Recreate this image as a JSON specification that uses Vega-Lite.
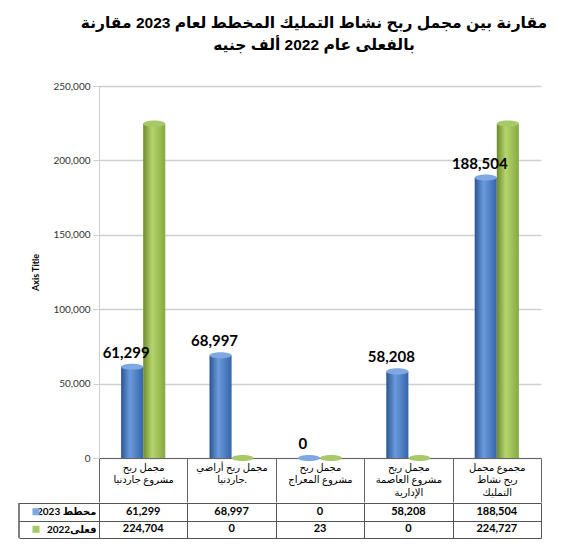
{
  "$schema": "https://vega.github.io/schema/vega-lite/v6.json",
  "padding": {"left": 18, "top": 15, "right": 10, "bottom": 5},
  "background": "white",
  "title": {
    "text": ["مقارنة بين مجمل ربح نشاط التمليك المخطط لعام 2023 مقارنة", "بالفعلى عام 2022 ألف جنيه"],
    "font": "Liberation Sans, DejaVu Sans",
    "fontSize": 15.5,
    "fontWeight": "bold",
    "color": "black",
    "anchor": "middle",
    "frame": "group",
    "dx": -6,
    "lineHeight": 22,
    "offset": 28
  },
  "datasets": {
    "bars": [
      {"cat": "مجمل ربح|مشروع جاردنيا", "series": "2023", "value": 61299},
      {"cat": "مجمل ربح|مشروع جاردنيا", "series": "2022", "value": 224704},
      {"cat": "مجمل ربح أراضي|جاردنيا.", "series": "2023", "value": 68997},
      {"cat": "مجمل ربح أراضي|جاردنيا.", "series": "2022", "value": 0},
      {"cat": "مجمل ربح|مشروع المعراج", "series": "2023", "value": 0},
      {"cat": "مجمل ربح|مشروع المعراج", "series": "2022", "value": 23},
      {"cat": "مجمل ربح|مشروع العاصمة|الإدارية", "series": "2023", "value": 58208},
      {"cat": "مجمل ربح|مشروع العاصمة|الإدارية", "series": "2022", "value": 0},
      {"cat": "مجموع مجمل|ربح نشاط|التمليك", "series": "2023", "value": 188504},
      {"cat": "مجموع مجمل|ربح نشاط|التمليك", "series": "2022", "value": 224727}
    ],
    "table": [
      {"cat": "مجمل ربح|مشروع جاردنيا", "row": "مخطط 2023", "value": 61299},
      {"cat": "مجمل ربح|مشروع جاردنيا", "row": "فعلى2022", "value": 224704},
      {"cat": "مجمل ربح أراضي|جاردنيا.", "row": "مخطط 2023", "value": 68997},
      {"cat": "مجمل ربح أراضي|جاردنيا.", "row": "فعلى2022", "value": 0},
      {"cat": "مجمل ربح|مشروع المعراج", "row": "مخطط 2023", "value": 0},
      {"cat": "مجمل ربح|مشروع المعراج", "row": "فعلى2022", "value": 23},
      {"cat": "مجمل ربح|مشروع العاصمة|الإدارية", "row": "مخطط 2023", "value": 58208},
      {"cat": "مجمل ربح|مشروع العاصمة|الإدارية", "row": "فعلى2022", "value": 0},
      {"cat": "مجموع مجمل|ربح نشاط|التمليك", "row": "مخطط 2023", "value": 188504},
      {"cat": "مجموع مجمل|ربح نشاط|التمليك", "row": "فعلى2022", "value": 224727}
    ],
    "legend": [
      {"row": "مخطط 2023", "color": "2023"},
      {"row": "فعلى2022", "color": "2022"}
    ]
  },
  "spacing": -6,
  "vconcat": [
    {
      "width": 442,
      "height": 372,
      "data": {"name": "bars"},
      "encoding": {
        "x": {
          "field": "cat", "type": "nominal", "sort": null,
          "scale": {"paddingInner": 0, "paddingOuter": 0},
          "axis": {
            "title": null, "labelAngle": 0, "labelExpr": "split(datum.label, '|')",
            "labelFont": "Lato, DejaVu Sans", "labelFontSize": 10, "labelColor": "black",
            "labelLineHeight": 12.5, "labelBaseline": "top", "labelPadding": -40,
            "labelOverlap": false, "labelBound": false,
            "minExtent": 43, "maxExtent": 43,
            "tickBand": "extent", "tickSize": 44, "tickColor": "#666", "domainColor": "#666", "grid": false
          }
        },
        "xOffset": {"field": "series", "type": "nominal", "sort": ["2023", "2022"], "scale": {"paddingInner": 0, "paddingOuter": 1}},
        "y": {
          "field": "value", "type": "quantitative",
          "scale": {"domain": [0, 250000]},
          "axis": {
            "title": "Axis Title", "titleFont": "Lato, DejaVu Sans", "titleFontSize": 9, "titleFontWeight": "bold", "titleColor": "black",
            "titlePadding": 12,
            "values": [0, 50000, 100000, 150000, 200000, 250000], "format": ",.0f",
            "labelFont": "Lato, DejaVu Sans", "labelFontSize": 10, "labelColor": "#333", "labelPadding": 3,
            "grid": true, "gridColor": "#cfcfcf", "gridWidth": 1.5,
            "domainColor": "#cfcfcf", "tickColor": "#cfcfcf", "tickSize": 6
          }
        }
      },
      "layer": [
        {
          "transform": [{"filter": "datum.series === '2023'"}],
          "mark": {"type": "bar", "color": {"x1": 0, "x2": 1, "y1": 0, "y2": 0, "gradient": "linear", "stops": [
            {"offset": 0, "color": "#2B5591"},
            {"offset": 0.4, "color": "#6B9BDD"},
            {"offset": 1, "color": "#3465A8"}]}}
        },
        {
          "transform": [{"filter": "datum.series === '2022'"}],
          "mark": {"type": "bar", "color": {"x1": 0, "x2": 1, "y1": 0, "y2": 0, "gradient": "linear", "stops": [
            {"offset": 0, "color": "#6C8A2C"},
            {"offset": 0.4, "color": "#B6D56C"},
            {"offset": 1, "color": "#86A943"}]}}
        },
        {
          "mark": {"type": "point", "filled": true, "opacity": 1, "size": 484, "shape": "M-1,0A1,0.28,0,1,0,1,0A1,0.28,0,1,0,-1,0Z", "strokeWidth": 0},
          "encoding": {
            "color": {"field": "series", "type": "nominal", "scale": {"domain": ["2023", "2022"], "range": ["#7FA7E2", "#A9C968"]}, "legend": null}
          }
        },
        {
          "transform": [{"filter": "datum.series === '2023'"}],
          "mark": {"type": "text", "font": "Lato, DejaVu Sans", "fontSize": 15, "fontWeight": "bold", "color": "black", "baseline": "bottom", "dy": -6, "dx": -6},
          "encoding": {"text": {"field": "value", "type": "quantitative", "format": ","}}
        }
      ]
    },
    {
      "width": 442,
      "height": 35,
      "layer": [
        {
          "data": {"name": "table"},
          "mark": {"type": "text", "font": "Lato, DejaVu Sans", "fontSize": 11, "fontWeight": "bold", "color": "black"},
          "encoding": {
            "x": {
              "field": "cat", "type": "nominal", "sort": null,
              "scale": {"paddingInner": 0, "paddingOuter": 0},
              "axis": {"orient": "top", "title": null, "labels": false, "domain": false, "ticks": false, "grid": true, "tickBand": "extent", "gridColor": "#555", "minExtent": 0, "maxExtent": 0, "offset": 0}
            },
            "y": {
              "field": "row", "type": "nominal", "sort": ["مخطط 2023", "فعلى2022"],
              "axis": {
                "title": null, "tickBand": "extent", "tickSize": 80, "tickColor": "#555", "domainColor": "#555",
                "grid": true, "gridColor": "#555",
                "labelPadding": -77, "labelFont": "Lato, DejaVu Sans", "labelFontSize": 10, "labelFontWeight": "bold", "labelColor": "black"
              }
            },
            "text": {"field": "value", "type": "quantitative", "format": ","}
          }
        },
        {
          "data": {"name": "legend"},
          "mark": {"type": "point", "shape": "square", "filled": true, "opacity": 1, "size": 50, "xOffset": -63},
          "encoding": {
            "x": {"datum": "مجمل ربح|مشروع جاردنيا", "bandPosition": 0},
            "y": {"field": "row", "type": "nominal", "sort": ["مخطط 2023", "فعلى2022"]},
            "color": {"field": "color", "type": "nominal", "scale": {"domain": ["2023", "2022"], "range": ["#4F81BD", "#9BBB59"]}, "legend": null}
          }
        },
        {
          "data": {"name": "legend"},
          "mark": {"type": "rule", "color": "#555", "xOffset": -80},
          "encoding": {
            "x": {"datum": "مجمل ربح|مشروع جاردنيا", "bandPosition": 0}
          }
        }
      ]
    }
  ],
  "config": {"view": {"stroke": null}}
}
